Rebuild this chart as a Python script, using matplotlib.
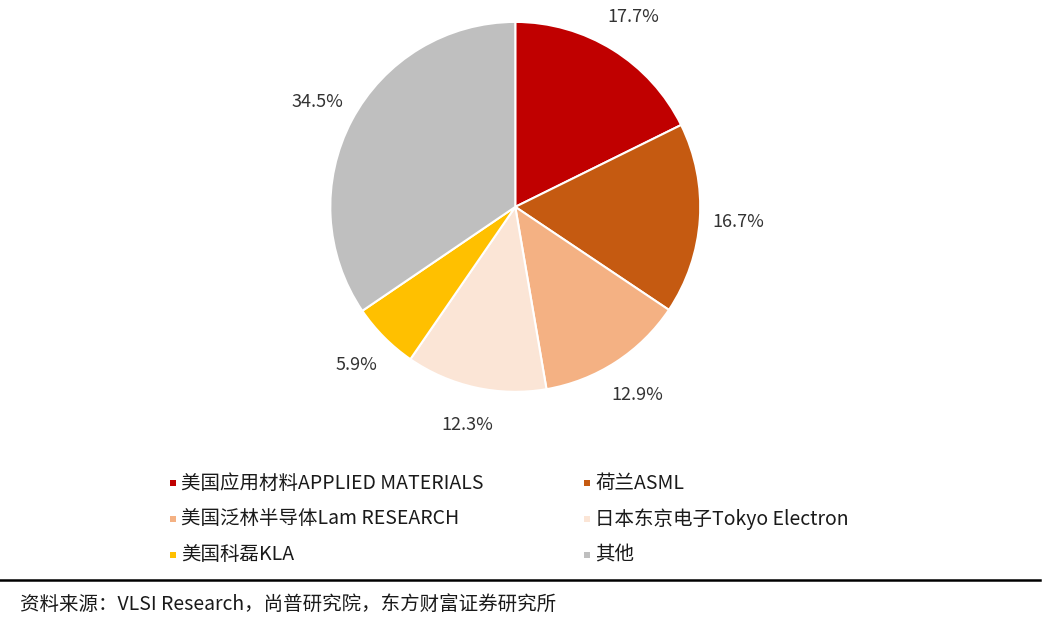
import matplotlib.pyplot as plt
from matplotlib.patches import Rectangle

plt.rcParams['font.family'] = ['Noto Sans CJK SC', 'DejaVu Sans']

# market share of semiconductor equipment makers
companies = ['美国应用材料APPLIED MATERIALS', '荷兰ASML', '美国泛林半导体Lam RESEARCH',
             '日本东京电子Tokyo Electron', '美国科磊KLA', '其他']
shares = [17.7, 16.7, 12.9, 12.3, 5.9, 34.5]
colors = ['#C00000', '#C55A11', '#F4B183', '#FBE5D6', '#FFC000', '#BFBFBF']
source = '资料来源：VLSI Research，尚普研究院，东方财富证券研究所'

W, H = 1042, 625
fig = plt.figure(figsize=(W / 100, H / 100), dpi=100)
ax = fig.add_axes([0.317, 0.373, 0.355, 0.592])

wedges, texts = ax.pie(shares, colors=colors, startangle=90, counterclock=False,
                       labels=[f'{v:.1f}%' for v in shares], labeldistance=1.21,
                       wedgeprops=dict(edgecolor='white', linewidth=1.5),
                       textprops=dict(fontsize=13, color='#333333'))
for t in texts:
    t.set_ha('center')
ax.set_xlim(-1, 1)
ax.set_ylim(-1, 1)
ax.set_aspect('equal')

# legend laid out by hand, two entries per row
col_x = [173, 587]
row_y = [483, 519, 555]
for i, name in enumerate(companies):
    x = col_x[i % 2]
    y = row_y[i // 2]
    fig.add_artist(Rectangle(((x - 3) / W, 1 - (y + 3) / H), 6 / W, 6 / H,
                             facecolor=colors[i], edgecolor='none',
                             transform=fig.transFigure))
    fig.text((x + 8) / W, 1 - y / H, name, fontsize=14, color='#1a1a1a',
             va='center', ha='left')

# rule and source line
fig.add_artist(plt.Line2D([0.0, 0.998], [1 - 580 / H, 1 - 580 / H], color='black', lw=1.8))
fig.text(20 / W, 1 - 604 / H, source, fontsize=14, color='#1a1a1a', va='center')

fig.savefig('out.png', dpi=100)
